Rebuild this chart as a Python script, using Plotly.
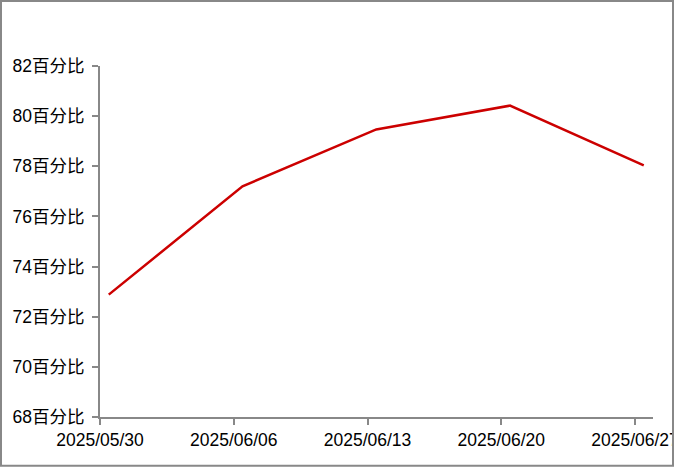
import plotly.graph_objects as go

dates = ["2025-05-30 11:00", "2025-06-06 11:00", "2025-06-13 11:00",
         "2025-06-20 11:00", "2025-06-27 11:00"]
values = [72.88, 77.2, 79.47, 80.42, 78.04]
tick_dates = ["2025-05-30", "2025-06-06", "2025-06-13", "2025-06-20", "2025-06-27"]
tick_text = ["2025/05/30", "2025/06/06", "2025/06/13", "2025/06/20", "2025/06/27"]
y_ticks = [68, 70, 72, 74, 76, 78, 80, 82]
y_text = [f"{v}百分比" for v in y_ticks]

W, H = 676, 468
L, R, T, B = 100, 23, 66, 50.7
pw, ph = W - L - R, H - T - B

def px2paper_x(px):
    return (px - L) / pw

def py2paper_y(py):
    return (H - B - py) / ph

font = "Liberation Sans, Arial, Noto Sans CJK SC, sans-serif"
axis_color = "#888888"

fig = go.Figure()
fig.add_trace(go.Scatter(x=dates, y=values, mode="lines",
                         line=dict(color="#cc0000", width=2.5),
                         hoverinfo="skip", showlegend=False))

fig.update_layout(
    width=W, height=H, autosize=False,
    margin=dict(l=L, r=R, t=T, b=B, pad=0, autoexpand=False),
    paper_bgcolor="white", plot_bgcolor="white",
    font=dict(family=font, size=17.5, color="black"),
    showlegend=False,
    xaxis=dict(type="date", range=["2025-05-30", "2025-06-27 22:36"],
               tickmode="array", tickvals=tick_dates, ticktext=tick_text,
               ticklabeloverflow="allow", automargin=False,
               showgrid=False, zeroline=False, showline=True,
               linecolor=axis_color, linewidth=2,
               ticks="outside", ticklen=6, tickwidth=2, tickcolor=axis_color,
               tickfont=dict(family=font, size=17.5, color="black")),
    yaxis=dict(range=[68, 82], tickmode="array", tickvals=y_ticks, ticktext=y_text,
               ticklabeloverflow="allow", automargin=False, ticklabelstandoff=4,
               showgrid=False, zeroline=False, showline=True,
               linecolor=axis_color, linewidth=2,
               ticks="outside", ticklen=6, tickwidth=2, tickcolor=axis_color,
               tickfont=dict(family=font, size=17.5, color="black")),
)

# white cover to clip tick label beyond the frame, then the frame
fig.add_shape(type="rect", xref="paper", yref="paper", layer="above",
              x0=px2paper_x(674), x1=px2paper_x(W + 20),
              y0=py2paper_y(H + 20), y1=py2paper_y(-20),
              fillcolor="white", line=dict(width=0))
fig.add_shape(type="rect", xref="paper", yref="paper", layer="above",
              x0=px2paper_x(1), x1=px2paper_x(673),
              y0=py2paper_y(466), y1=py2paper_y(1),
              fillcolor="rgba(0,0,0,0)", line=dict(color=axis_color, width=2))

post = """
document.documentElement.style.overflow='hidden';
document.body.style.margin='0';
document.body.style.overflow='hidden';
"""

fig.write_html("out.html",
               config={"responsive": False, "displayModeBar": False, "staticPlot": True},
               post_script=post)
